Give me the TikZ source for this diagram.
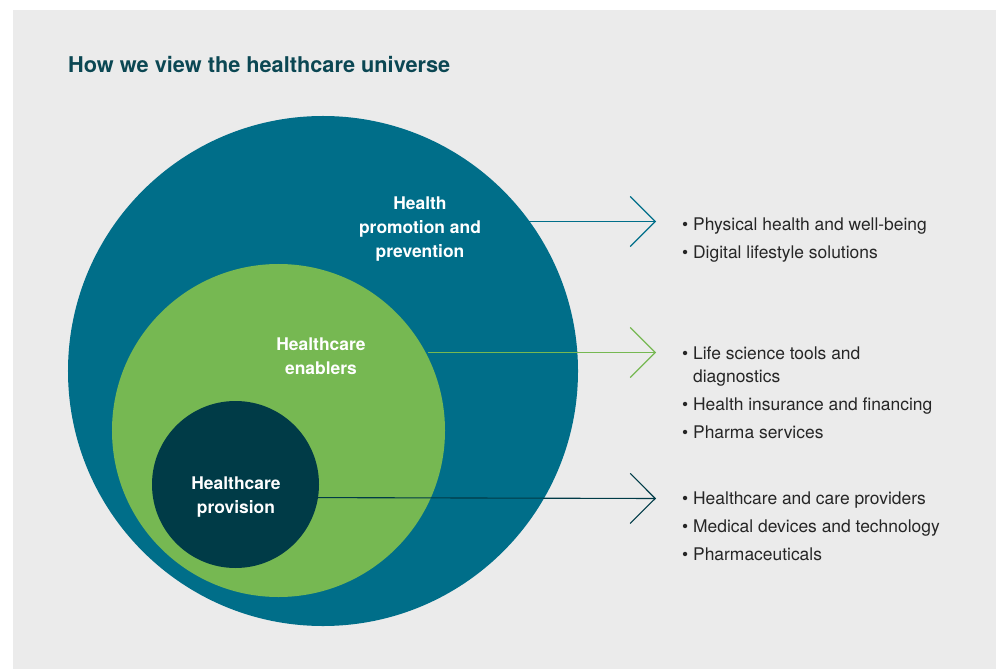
\documentclass[tikz,border=0pt]{standalone}
\usepackage{fontspec}
\setmainfont{TeX Gyre Heros}
\usetikzlibrary{arrows.meta}

\definecolor{bgGray}{HTML}{EBEBEB}
\definecolor{promoTeal}{HTML}{006E89}
\definecolor{enablerGreen}{HTML}{76B852}
\definecolor{provisionDark}{HTML}{003B47}
\definecolor{titleTeal}{HTML}{0B4753}
\definecolor{listGray}{HTML}{262626}

\newcommand{\itembul}{\textbullet\ }
\newcommand{\itemgap}{\hphantom{\textbullet\ }}

\begin{document}
\begin{tikzpicture}[x=1bp,y=-1bp,
    ring/.style={circle,inner sep=0pt,draw=none},
    ringlabel/.style={text=white,font=\bfseries\fontsize{17.5}{24}\selectfont,align=center,inner sep=0pt},
    itemlist/.style={text=listGray,font=\fontsize{17.5}{23.5}\selectfont,align=left,anchor=north west,inner sep=0pt},
    pointer/.style={line width=1.1bp,-{Straight Barb[length=25bp,width=50bp]}}]

	\useasboundingbox (0,0) rectangle (996,669);
	\fill[bgGray] (13,10) rectangle (996,669);

            \node[anchor=base west,inner sep=0pt,text=titleTeal,font=\bfseries\fontsize{21.8}{26}\selectfont] (title) at (68,72.3) {How we view the healthcare universe};

            % the three circles, outer to inner
            \node[ring,fill=promoTeal,minimum size=510bp] (promo) at (323,371) {};
            \node[ring,fill=enablerGreen,minimum size=333bp] (enable) at (278.5,430.5) {};
            \node[ring,fill=provisionDark,minimum size=167bp] (provide) at (235.5,484.5) {};

            \node[ringlabel] (promoText) at (420,229) {Health\\promotion and\\prevention};
            \node[ringlabel] (enableText) at (321,356) {Healthcare\\enablers};
            \node[ringlabel] (provideText) at (236,497) {Healthcare\\provision};

            \coordinate (promoStart) at (529,221.5);
            \coordinate (promoTip) at (656,221.5);
            \coordinate (enableStart) at (428,352.5);
            \coordinate (enableTip) at (656,352.5);
            \coordinate (provideTip) at (656,498.5);

            \draw[pointer,promoTeal] (promoStart) -- (promoTip);
            \draw[pointer,enablerGreen] (enableStart) -- (enableTip);
            \draw[pointer,provisionDark] (provide.-9.65) -- (provideTip);

            \node[itemlist] (promoList) at (682,217.7) {\itembul Physical health and well-being\\[4.5bp]\itembul Digital lifestyle solutions};
            \node[itemlist] (enableList) at (682,346.5) {\itembul Life science tools and\\\itemgap diagnostics\\[4.5bp]\itembul Health insurance and financing\\[4.5bp]\itembul Pharma services};
            \node[itemlist] (provideList) at (682,491.5) {\itembul Healthcare and care providers\\[4.5bp]\itembul Medical devices and technology\\[4.5bp]\itembul Pharmaceuticals};
        \end{tikzpicture}
\end{document}
